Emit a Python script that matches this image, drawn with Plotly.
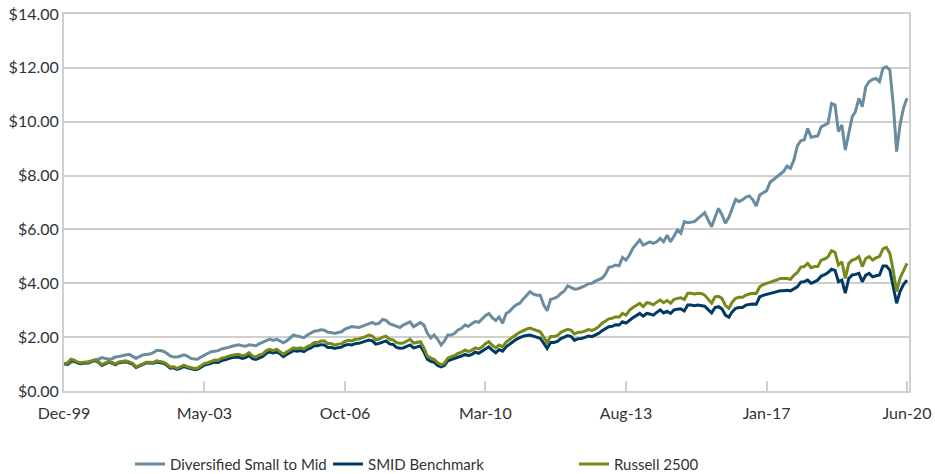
import pandas as pd
import plotly.graph_objects as go

# Monthly dates Dec-1999 .. Jun-2020
dates = pd.date_range("1999-12-01", "2020-06-01", freq="MS")

tick_dates = ["1999-12-01", "2003-05-01", "2006-10-01", "2010-03-01",
              "2013-08-01", "2017-01-01", "2020-06-01"]
tick_labels = ["Dec-99", "May-03", "Oct-06", "Mar-10", "Aug-13", "Jan-17", "Jun-20"]

series_names = ["Diversified Small to Mid", "SMID Benchmark", "Russell 2500"]

diversified = [1.00,
    0.97, 1.06, 1.09, 1.06, 1.04, 1.05, 1.08, 1.12, 1.15, 1.18, 1.24, 1.22,
    1.18, 1.20, 1.26, 1.28, 1.32, 1.34, 1.36, 1.30, 1.21, 1.28, 1.34, 1.36,
    1.37, 1.42, 1.50, 1.50, 1.48, 1.40, 1.30, 1.26, 1.26, 1.30, 1.34, 1.30,
    1.21, 1.19, 1.18, 1.26, 1.34, 1.40, 1.46, 1.49, 1.50, 1.56, 1.58, 1.62,
    1.66, 1.70, 1.72, 1.68, 1.66, 1.72, 1.70, 1.68, 1.76, 1.82, 1.90, 1.93,
    1.88, 1.92, 1.86, 1.79, 1.86, 1.96, 2.08, 2.04, 2.02, 1.98, 2.08, 2.15,
    2.22, 2.24, 2.27, 2.26, 2.18, 2.17, 2.14, 2.17, 2.20, 2.30, 2.36, 2.39,
    2.38, 2.36, 2.40, 2.45, 2.50, 2.55, 2.48, 2.52, 2.66, 2.62, 2.50, 2.46,
    2.42, 2.36, 2.45, 2.50, 2.57, 2.39, 2.48, 2.54, 2.45, 2.15, 1.97, 2.08,
    1.92, 1.71, 1.85, 2.08, 2.08, 2.14, 2.27, 2.33, 2.45, 2.40, 2.50, 2.58,
    2.55, 2.68, 2.80, 2.88, 2.72, 2.62, 2.75, 2.52, 2.88, 2.95, 3.10, 3.20,
    3.26, 3.42, 3.55, 3.69, 3.60, 3.56, 3.56, 3.20, 2.98, 3.40, 3.44, 3.50,
    3.62, 3.72, 3.90, 3.84, 3.78, 3.80, 3.84, 3.90, 3.98, 4.00, 4.08, 4.14,
    4.19, 4.35, 4.59, 4.62, 4.68, 4.65, 4.96, 4.86, 5.05, 5.30, 5.45, 5.61,
    5.42, 5.50, 5.54, 5.48, 5.54, 5.67, 5.54, 5.79, 5.54, 5.75, 5.98, 5.86,
    6.29, 6.25, 6.28, 6.29, 6.40, 6.50, 6.62, 6.35, 6.10, 6.45, 6.78, 6.55,
    6.23, 6.45, 6.78, 7.12, 7.03, 7.10, 7.20, 7.24, 7.10, 6.87, 7.28, 7.35,
    7.44, 7.75, 7.84, 7.92, 8.02, 8.15, 8.35, 8.27, 8.58, 9.10, 9.30, 9.32,
    9.75, 9.42, 9.45, 9.47, 9.81, 9.88, 9.94, 10.68, 10.62, 9.63, 9.88, 8.95,
    9.60, 10.19, 10.37, 10.87, 10.56, 11.30, 11.49, 11.57, 11.61, 11.49, 11.98, 12.04,
    11.92, 10.60, 8.89, 9.90, 10.50, 10.87]

smid_benchmark = [1.00,
    1.02, 1.14, 1.12, 1.04, 1.01, 1.05, 1.03, 1.09, 1.13, 1.07, 0.95, 1.01,
    1.07, 1.03, 0.97, 1.05, 1.08, 1.09, 1.05, 1.00, 0.87, 0.92, 1.00, 1.04,
    1.04, 1.03, 1.08, 1.06, 1.03, 0.96, 0.85, 0.86, 0.80, 0.85, 0.91, 0.86,
    0.82, 0.80, 0.81, 0.88, 0.96, 0.99, 1.02, 1.07, 1.06, 1.13, 1.16, 1.21,
    1.24, 1.25, 1.26, 1.21, 1.24, 1.32, 1.20, 1.17, 1.24, 1.28, 1.40, 1.45,
    1.41, 1.45, 1.39, 1.28, 1.36, 1.42, 1.50, 1.48, 1.50, 1.46, 1.55, 1.60,
    1.68, 1.68, 1.72, 1.71, 1.62, 1.62, 1.58, 1.61, 1.63, 1.70, 1.73, 1.71,
    1.76, 1.77, 1.80, 1.85, 1.89, 1.86, 1.74, 1.77, 1.83, 1.86, 1.75, 1.73,
    1.62, 1.59, 1.60, 1.66, 1.71, 1.60, 1.63, 1.67, 1.45, 1.18, 1.10, 1.07,
    0.95, 0.90, 0.95, 1.12, 1.17, 1.21, 1.27, 1.30, 1.36, 1.31, 1.36, 1.44,
    1.40, 1.48, 1.58, 1.64, 1.52, 1.42, 1.54, 1.48, 1.64, 1.74, 1.82, 1.92,
    1.98, 2.04, 2.06, 2.08, 2.04, 2.00, 1.96, 1.78, 1.58, 1.80, 1.80, 1.84,
    1.95, 2.00, 2.06, 2.02, 1.88, 1.94, 1.95, 1.99, 2.04, 2.02, 2.08, 2.14,
    2.24, 2.32, 2.39, 2.40, 2.46, 2.45, 2.57, 2.52, 2.64, 2.72, 2.80, 2.88,
    2.78, 2.88, 2.86, 2.82, 2.92, 3.01, 2.90, 2.96, 2.88, 3.01, 3.04, 3.05,
    2.97, 3.19, 3.19, 3.17, 3.19, 3.18, 3.15, 3.02, 2.90, 3.10, 3.13, 3.05,
    2.82, 2.74, 2.94, 3.07, 3.10, 3.10, 3.19, 3.21, 3.23, 3.22, 3.50, 3.55,
    3.58, 3.63, 3.65, 3.68, 3.72, 3.72, 3.74, 3.72, 3.80, 3.87, 4.04, 4.06,
    4.12, 4.00, 4.05, 4.12, 4.27, 4.32, 4.40, 4.52, 4.48, 4.06, 4.12, 3.63,
    4.18, 4.31, 4.33, 4.37, 4.06, 4.30, 4.37, 4.24, 4.28, 4.31, 4.64, 4.64,
    4.49, 3.90, 3.26, 3.70, 3.95, 4.12]

russell_2500 = [1.00,
    1.05, 1.18, 1.15, 1.07, 1.04, 1.08, 1.06, 1.12, 1.16, 1.10, 0.98, 1.04,
    1.10, 1.06, 1.00, 1.08, 1.11, 1.12, 1.08, 1.03, 0.90, 0.95, 1.03, 1.07,
    1.07, 1.06, 1.12, 1.10, 1.07, 1.00, 0.89, 0.90, 0.84, 0.90, 0.96, 0.90,
    0.86, 0.84, 0.85, 0.93, 1.02, 1.05, 1.10, 1.15, 1.14, 1.22, 1.25, 1.30,
    1.33, 1.35, 1.36, 1.30, 1.34, 1.42, 1.30, 1.26, 1.34, 1.38, 1.50, 1.55,
    1.50, 1.55, 1.48, 1.37, 1.45, 1.52, 1.60, 1.58, 1.60, 1.56, 1.65, 1.70,
    1.80, 1.80, 1.86, 1.86, 1.76, 1.76, 1.70, 1.74, 1.76, 1.84, 1.88, 1.86,
    1.92, 1.93, 1.96, 2.02, 2.08, 2.04, 1.90, 1.93, 2.00, 2.04, 1.92, 1.90,
    1.80, 1.77, 1.78, 1.85, 1.92, 1.78, 1.80, 1.83, 1.60, 1.30, 1.22, 1.18,
    1.05, 0.97, 1.03, 1.22, 1.28, 1.32, 1.40, 1.44, 1.52, 1.46, 1.52, 1.60,
    1.56, 1.64, 1.76, 1.83, 1.70, 1.60, 1.71, 1.64, 1.82, 1.92, 2.00, 2.10,
    2.18, 2.25, 2.30, 2.34, 2.30, 2.25, 2.20, 2.00, 1.80, 2.02, 2.02, 2.06,
    2.18, 2.24, 2.29, 2.25, 2.12, 2.18, 2.18, 2.22, 2.28, 2.25, 2.30, 2.39,
    2.52, 2.60, 2.68, 2.70, 2.76, 2.74, 2.88, 2.82, 3.00, 3.10, 3.19, 3.25,
    3.13, 3.28, 3.26, 3.20, 3.30, 3.38, 3.28, 3.36, 3.26, 3.40, 3.44, 3.46,
    3.40, 3.63, 3.63, 3.60, 3.63, 3.62, 3.56, 3.40, 3.26, 3.50, 3.52, 3.44,
    3.18, 3.07, 3.30, 3.44, 3.48, 3.48, 3.56, 3.60, 3.63, 3.62, 3.87, 3.95,
    4.00, 4.06, 4.08, 4.12, 4.18, 4.18, 4.18, 4.15, 4.30, 4.40, 4.60, 4.62,
    4.74, 4.58, 4.62, 4.62, 4.86, 4.90, 4.99, 5.21, 5.15, 4.68, 4.80, 4.18,
    4.74, 4.86, 4.90, 4.99, 4.62, 4.92, 4.99, 4.86, 4.95, 4.99, 5.28, 5.33,
    5.11, 4.45, 3.69, 4.20, 4.50, 4.74]

colors = ["#6b8c9f", "#003a63", "#77891a"]
values = [diversified, smid_benchmark, russell_2500]
legends = [None, "legend2", "legend3"]

FONT = "Lato, 'Open Sans', sans-serif"
TXT = "#333333"
GRID = "#cfcfcf"

fig = go.Figure()
for name, vals, col, lg in zip(series_names, values, colors, legends):
    tr = go.Scatter(x=dates, y=vals, mode="lines", name=name,
                    line=dict(color=col, width=3), showlegend=True)
    if lg:
        tr.legend = lg
    fig.add_trace(tr)

leg_common = dict(orientation="h", yanchor="middle", xanchor="left",
                  font=dict(family=FONT, size=15, color=TXT),
                  bgcolor="rgba(0,0,0,0)", itemwidth=30)
plot_w = 845
def lx(px):
    return (px - 64) / plot_w

fig.update_layout(
    width=935, height=474,
    margin=dict(l=64, r=26, t=14, b=83, autoexpand=False),
    paper_bgcolor="white", plot_bgcolor="white",
    font=dict(family=FONT, size=16, color=TXT),
    showlegend=True,
    legend=dict(x=lx(130), y=-0.194, **leg_common),
    legend2=dict(x=lx(328), y=-0.194, **leg_common),
    legend3=dict(x=lx(574), y=-0.194, **leg_common),
    xaxis=dict(type="date", range=["1999-12-01", "2020-06-19"],
               tickvals=tick_dates, ticktext=tick_labels,
               ticks="inside", ticklen=10, tickwidth=2, tickcolor=GRID,
               ticklabelstandoff=7, automargin=False,
               showgrid=False, showline=True, linecolor=GRID, linewidth=2,
               mirror=True, zeroline=False,
               tickfont=dict(family=FONT, size=16, color=TXT)),
    yaxis=dict(range=[0, 14], dtick=2, tickformat="$.2f", automargin=False,
               showgrid=True, gridcolor=GRID, gridwidth=2,
               showline=True, linecolor=GRID, linewidth=2, mirror=True,
               zeroline=False, ticks="",
               tickfont=dict(family=FONT, size=16, color=TXT)),
)

fig.write_html("out.html",
               config={"displayModeBar": False},
               post_script="document.body.style.margin='0';document.body.style.padding='0';")
